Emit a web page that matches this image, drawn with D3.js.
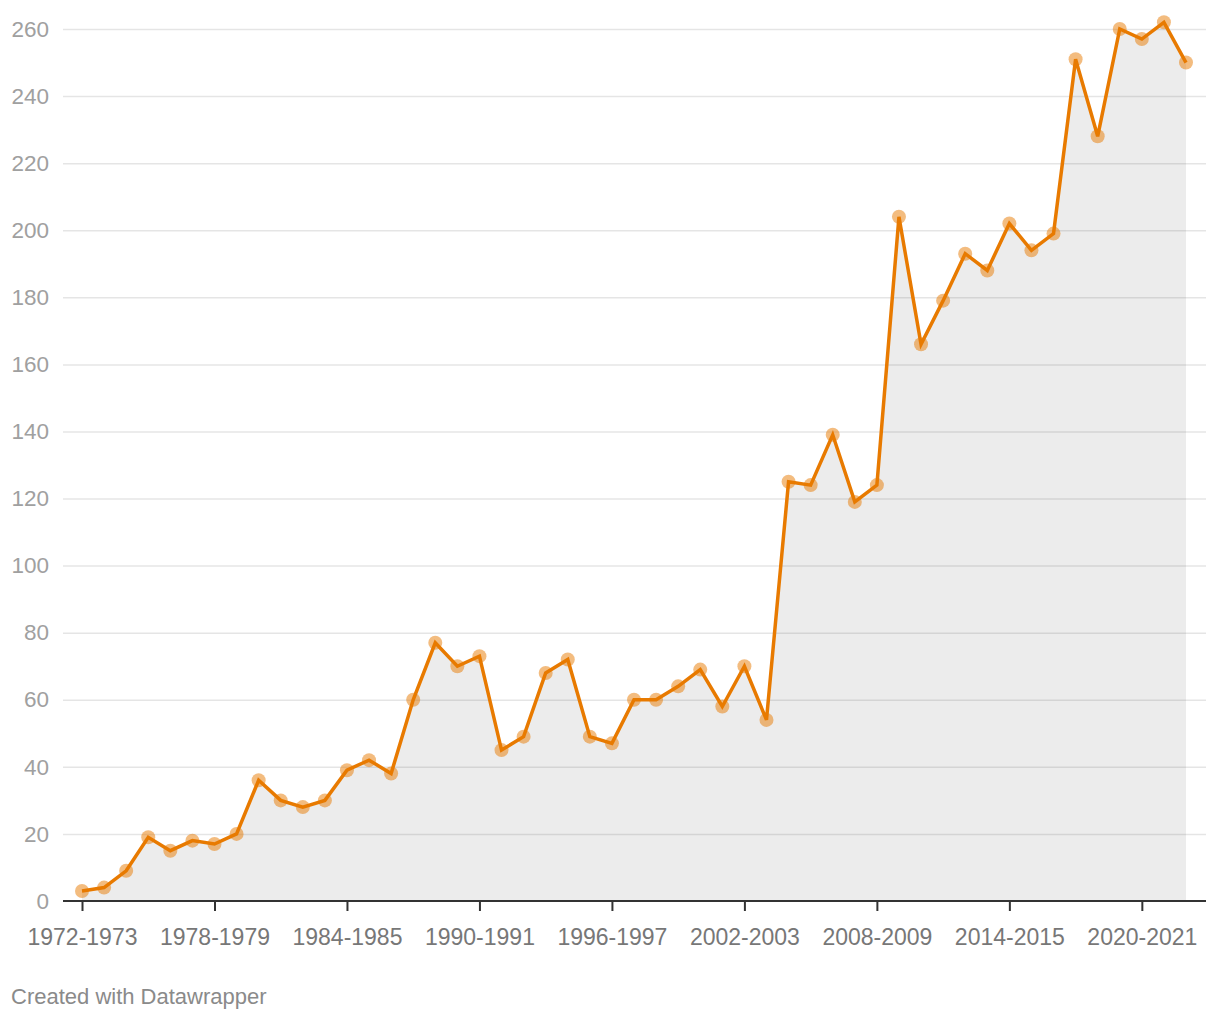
<!DOCTYPE html>
<html><head><meta charset="utf-8">
<script src="https://cdn.jsdelivr.net/npm/d3@7"></script>
<style>body{margin:0;background:#fff;}svg{display:block;font-family:"Liberation Sans",Arial,Helvetica,sans-serif;}</style>
</head><body><svg id="c" width="1220" height="1020"></svg>
<script>
const startYears = d3.range(1972, 2023);
const categories = startYears.map(y => y + "-" + (y + 1));
const values = [3,4,9,19,15,18,17,20,36,30,28,30,39,42,38,60,77,70,73,45,49,68,72,49,47,60,60,64,69,58,70,54,125,124,139,119,124,204,166,179,193,188,202,194,199,251,228,260,257,262,250];
const yTicks = [0,20,40,60,80,100,120,140,160,180,200,220,240,260];
const xTickLabels = ["1972-1973","1978-1979","1984-1985","1990-1991","1996-1997","2002-2003","2008-2009","2014-2015","2020-2021"];
const credit = "Created with Datawrapper";

const svg = d3.select("#c");
const x = d3.scalePoint().domain(categories).range([82, 1186]);
const y = d3.scaleLinear().domain([0, 260]).range([901, 29]);
const data = categories.map((c, i) => ({c, v: values[i]}));

// area
svg.append("path").datum(data)
  .attr("fill", "#ececec")
  .attr("d", d3.area().x(d => x(d.c)).y0(y(0)).y1(d => y(d.v)));

// grid
const yAxis = d3.axisLeft(y).tickValues(yTicks).tickSize(-(1206 - 63)).tickPadding(14);
const gy = svg.append("g").attr("transform", "translate(63,0)").call(yAxis);
gy.select(".domain").remove();
gy.selectAll(".tick line").attr("stroke", "#000").attr("stroke-opacity", 0.1).attr("stroke-width", 1.5);
gy.selectAll(".tick text").attr("fill", "#a0a0a0").attr("font-size", 22.5).attr("font-family", "Liberation Sans, Arial, sans-serif");
gy.selectAll(".tick").filter(d => d === 0).select("line").remove();

// x axis
const xAxis = d3.axisBottom(x).tickValues(xTickLabels).tickSize(10).tickSizeOuter(0);
const gx = svg.append("g").attr("transform", "translate(0,901)").call(xAxis);
gx.select(".domain").attr("d", "M63,0H1206").attr("stroke", "#333").attr("stroke-width", 2);
gx.selectAll(".tick line").attr("stroke", "#333").attr("stroke-width", 2);
gx.selectAll(".tick text").attr("fill", "#777").attr("font-size", 23).attr("y", 44).attr("dy", 0)
  .attr("font-family", "Liberation Sans, Arial, sans-serif");

// points
svg.append("g").selectAll("circle").data(data).join("circle")
  .attr("cx", d => x(d.c)).attr("cy", d => y(d.v)).attr("r", 7)
  .attr("fill", "#e87a00").attr("fill-opacity", 0.5);

// line
svg.append("path").datum(data)
  .attr("fill", "none").attr("stroke", "#e87a00").attr("stroke-width", 3.5)
  .attr("stroke-linejoin", "miter")
  .attr("d", d3.line().x(d => x(d.c)).y(d => y(d.v)));

svg.append("text").attr("x", 11).attr("y", 1004).attr("fill", "#8a8a8a").attr("font-size", 22).text(credit);
</script></body></html>
